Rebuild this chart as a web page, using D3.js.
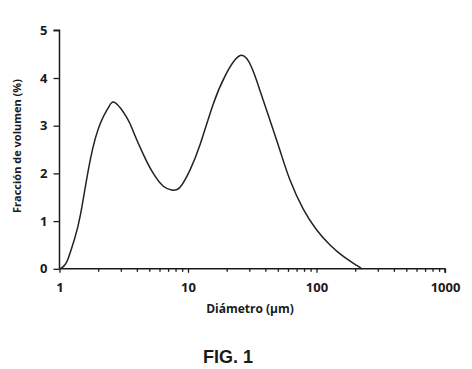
<!DOCTYPE html>
<html><head><meta charset="utf-8">
<script src="https://cdn.jsdelivr.net/npm/d3@7"></script>
<style>html,body{margin:0;padding:0;background:#fff;}svg{display:block;}</style>
</head><body>
<svg id="c" width="472" height="369"></svg>
<script>
const diameters = [1, 1.05, 1.15, 1.3, 1.46, 1.74, 2.08, 2.4, 2.72, 3.36, 3.75, 4.49, 5.37, 6.43, 7.47, 8.67, 10.4, 12.4, 15.7, 19.5, 25.5, 31.3, 36.3, 43.5, 52, 62.2, 78.9, 100, 127.4, 161.8, 205.6, 225];
const volumeFraction = [0, 0.03, 0.17, 0.6, 1.15, 2.3, 3.05, 3.38, 3.48, 3.16, 2.88, 2.4, 2.0, 1.73, 1.65, 1.71, 2.08, 2.6, 3.45, 4.05, 4.47, 4.22, 3.74, 3.11, 2.48, 1.86, 1.25, 0.82, 0.5, 0.26, 0.07, 0];
const xTicks = [1, 10, 100, 1000];
const yTicks = [0, 1, 2, 3, 4, 5];
const xLabel = "Diámetro (µm)";
const yLabel = "Fracción de volumen (%)";
const caption = "FIG. 1";

const svg = d3.select("#c");
const x = d3.scaleLog().domain([1, 1000]).range([59.5, 445]);
const y = d3.scaleLinear().domain([0, 5]).range([268.8, 30.3]);
const font = "'Open Sans', sans-serif";
const ink = "#1a1a1a";

// Y axis
const yAxis = svg.append("g").attr("transform", `translate(${x(1)},0)`)
  .call(d3.axisLeft(y).tickValues(yTicks).tickSize(6).tickPadding(6).tickFormat(d3.format("d")));
yAxis.select(".domain").attr("stroke", ink).attr("stroke-width", 1.5).attr("d", `M-6,${y(5)}H0V${y(0)}`);
yAxis.selectAll(".tick line").attr("stroke", ink).attr("stroke-width", 1.3);
yAxis.selectAll("text").attr("font-family", font).attr("font-weight", "bold").attr("font-size", 13).attr("fill", ink);

// X axis with minor ticks
const minor = [];
for (let d = 1; d < 1000; d *= 10) for (let k = 2; k <= 9; k++) minor.push(d * k);
const xAxisMinor = svg.append("g").attr("transform", `translate(0,${y(0)})`)
  .call(d3.axisBottom(x).tickValues(minor).tickSize(3).tickFormat(""));
xAxisMinor.select(".domain").remove();
xAxisMinor.selectAll(".tick line").attr("stroke", ink).attr("stroke-width", 1.3);
const xAxis = svg.append("g").attr("transform", `translate(0,${y(0)})`)
  .call(d3.axisBottom(x).tickValues(xTicks).tickSize(4).tickPadding(10).tickFormat(d3.format("d")));
xAxis.select(".domain").attr("stroke", ink).attr("stroke-width", 1.5).attr("d", `M${x(1)},0H${x(1000)}V4`);
xAxis.selectAll(".tick line").attr("stroke", ink).attr("stroke-width", 1.3);
xAxis.selectAll("text").attr("font-family", font).attr("font-weight", "bold").attr("font-size", 13).attr("fill", ink);

// Curve
const pts = diameters.map((d, i) => [d, volumeFraction[i]]);
svg.append("path").datum(pts)
  .attr("fill", "none").attr("stroke", "#222").attr("stroke-width", 1.5)
  .attr("d", d3.line().x(d => x(d[0])).y(d => y(d[1])).curve(d3.curveNatural));

// Labels
svg.append("text").attr("x", 250).attr("y", 313).attr("text-anchor", "middle")
  .attr("font-family", font).attr("font-weight", "bold").attr("font-size", 12).attr("fill", ink).text(xLabel);
svg.append("text").attr("transform", "translate(21,146) rotate(-90)").attr("text-anchor", "middle")
  .attr("font-family", font).attr("font-weight", "bold").attr("font-size", 11).attr("fill", ink).text(yLabel);
svg.append("text").attr("x", 228).attr("y", 363).attr("text-anchor", "middle")
  .attr("font-family", "'Liberation Sans', Arial, sans-serif").attr("font-weight", "bold").attr("font-size", 18).attr("fill", ink).text(caption);
</script>
</body></html>
